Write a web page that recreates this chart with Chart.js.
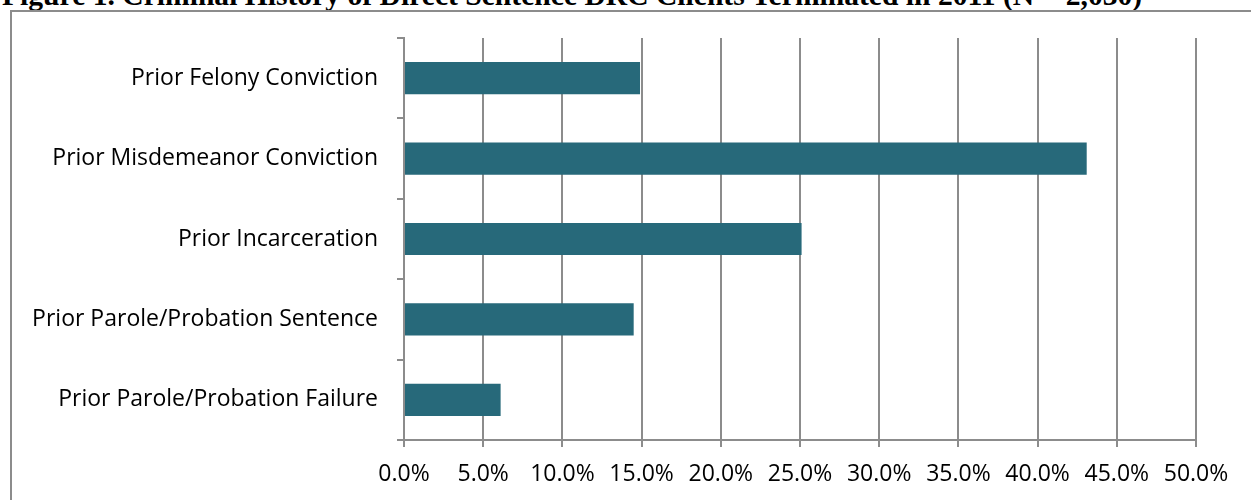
<!DOCTYPE html>
<html>
<head>
<meta charset="utf-8">
<script src="https://cdn.jsdelivr.net/npm/chart.js@4"></script>
<style>
  html, body { margin: 0; padding: 0; background: #fff; overflow: hidden; }
  body { width: 1251px; height: 500px; position: relative; }
  #title {
    position: absolute; left: 2px; top: -21px; margin: 0;
    font: bold 29.6px "Liberation Serif", "Times New Roman", serif;
    color: #000; white-space: nowrap;
  }
  #frame {
    position: absolute; left: 10px; top: 10px; width: 1300px; height: 560px;
    border: 2px solid #8c8c8c; box-sizing: border-box;
  }
  #wrap { position: absolute; left: 0; top: 0; width: 1251px; height: 500px; }
</style>
</head>
<body>
<div id="title">Figure 1. Criminal History of Direct Sentence DRC Clients Terminated in 2011 (N = 2,030)</div>
<div id="frame"></div>
<div id="wrap"><canvas id="chart"></canvas></div>
<script>
// categories and values (percent of clients)
const categories = [
  'Prior Felony Conviction',
  'Prior Misdemeanor Conviction',
  'Prior Incarceration',
  'Prior Parole/Probation Sentence',
  'Prior Parole/Probation Failure',
];
const percents = [14.9, 43.1, 25.1, 14.5, 6.1];

const gridColor = '#8c8c8c';
const labelFont = { family: '"Open Sans", sans-serif', size: 23 };

new Chart(document.getElementById('chart').getContext('2d'), {
  type: 'bar',
  data: {
    labels: categories,
    datasets: [{
      data: percents,
      backgroundColor: 'rgb(39, 105, 122)',
      borderWidth: 0,
      categoryPercentage: 0.4,
      barPercentage: 1.0,
    }],
  },
  options: {
    indexAxis: 'y',
    responsive: true,
    maintainAspectRatio: false,
    animation: false,
    layout: { padding: { top: 38, right: 55, bottom: 0, left: 0 } },
    plugins: { legend: { display: false }, tooltip: { enabled: false } },
    scales: {
      x: {
        min: 0,
        max: 50,
        ticks: {
          stepSize: 5,
          padding: 14,
          color: '#000',
          font: labelFont,
          callback: (v) => v.toFixed(1) + '%',
        },
        grid: { color: gridColor, lineWidth: 2, tickLength: 7 },
        border: { color: gridColor, width: 2 },
        afterFit: (scale) => { scale.height = 60; },
      },
      y: {
        ticks: {
          padding: 19,
          color: '#000',
          font: labelFont,
        },
        grid: { display: true, drawOnChartArea: false, offset: true, color: gridColor, lineWidth: 2, tickLength: 7 },
        border: { color: gridColor, width: 2 },
        afterFit: (scale) => { scale.width = 404; },
      },
    },
  },
});
</script>
</body>
</html>
